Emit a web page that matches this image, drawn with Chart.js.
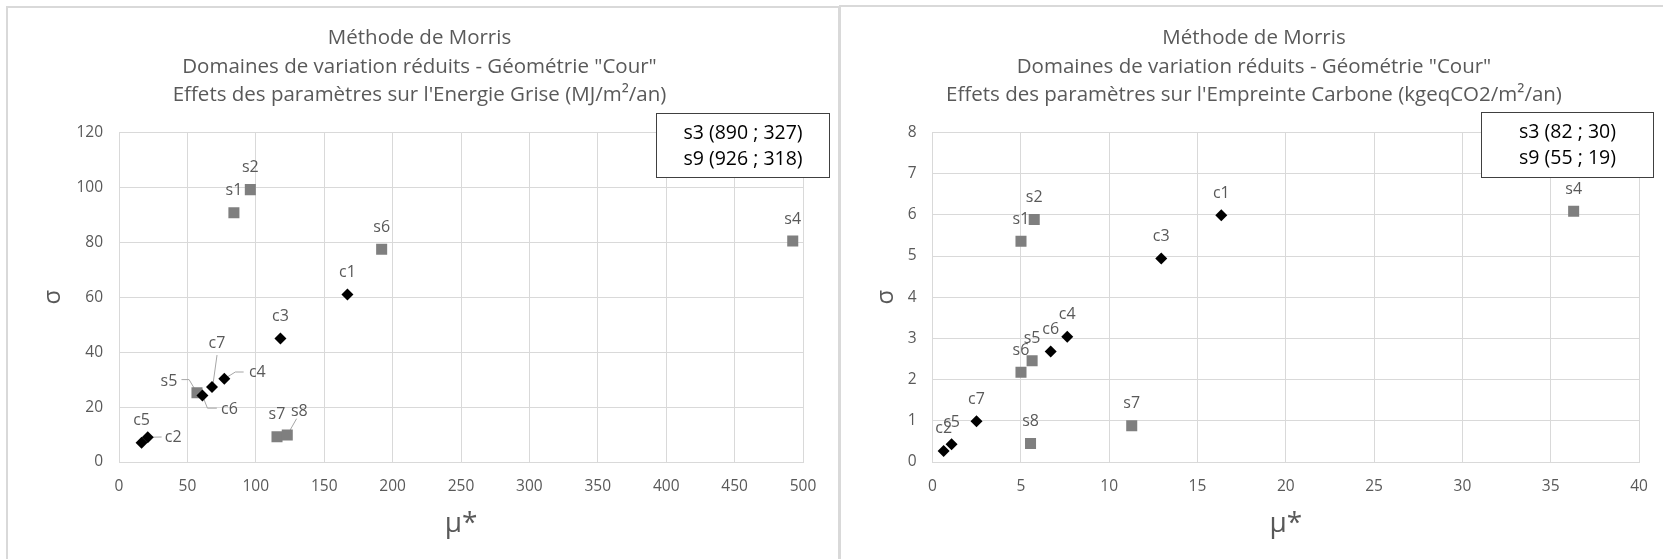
<!DOCTYPE html>
<html>
<head>
<meta charset="utf-8">
<script src="https://cdn.jsdelivr.net/npm/chart.js@4.4.0/dist/chart.umd.min.js"></script>
<style>
html, body { margin: 0; padding: 0; background: #fff; width: 1663px; height: 559px; overflow: hidden; }
.panel { position: absolute; border: 2px solid #d9d9d9; box-sizing: border-box; }
#p1 { left: 6px; top: 6px; width: 834px; height: 600px; }
#p2 { left: 839px; top: 5px; width: 900px; height: 600px; }
canvas { position: absolute; }
#chartEnergy { left: 8px; top: 8px; }
#chartCarbon { left: 841px; top: 8px; }
</style>
</head>
<body>
<div class="panel" id="p1"></div>
<div class="panel" id="p2"></div>
<canvas id="chartEnergy" width="829" height="551"></canvas>
<canvas id="chartCarbon" width="822" height="551"></canvas>
<script>
// Données : Energie Grise (MJ/m²/an)
const energyCLabels = ['c1', 'c2', 'c3', 'c4', 'c5', 'c6', 'c7'];
const energyCX = [167, 21, 118, 77, 16.5, 61, 68];
const energyCY = [61, 9, 45, 30.3, 7, 24.2, 27.3];
const energySLabels = ['s1', 's2', 's4', 's5', 's6', 's7', 's8'];
const energySX = [84, 96, 492.5, 57, 192, 115.5, 123];
const energySY = [90.8, 99.2, 80.5, 25.2, 77.5, 9.2, 9.8];
const energyOutLabels = ['s3', 's9'];
const energyOutX = [890, 926];
const energyOutY = [327, 318];

// Données : Empreinte Carbone (kgeqCO2/m²/an)
const carbonCLabels = ['c1', 'c2', 'c3', 'c4', 'c5', 'c6', 'c7'];
const carbonCX = [16.35, 0.63, 12.95, 7.63, 1.08, 6.69, 2.49];
const carbonCY = [5.99, 0.27, 4.94, 3.04, 0.43, 2.68, 0.99];
const carbonSLabels = ['s1', 's2', 's4', 's5', 's6', 's7', 's8'];
const carbonSX = [5.01, 5.76, 36.3, 5.64, 5.01, 11.28, 5.55];
const carbonSY = [5.36, 5.89, 6.09, 2.46, 2.18, 0.88, 0.45];
const carbonOutLabels = ['s3', 's9'];
const carbonOutX = [82, 55];
const carbonOutY = [30, 19];

const titleTop = ['Méthode de Morris', 'Domaines de variation réduits - Géométrie "Cour"'];

const GREY = '#595959';
const GRID = '#d9d9d9';
const FONT = "'Open Sans', 'DejaVu Sans', sans-serif";

// étiquettes des points + lignes de rappel + encadré des valeurs hors échelle
const labelPlugin = {
    id: 'pointLabels',
    beforeDatasetsDraw(chart, args, opts) {
        const ctx = chart.ctx;
        ctx.save();
        ctx.strokeStyle = '#a6a6a6';
        ctx.lineWidth = 1;
        eachPoint(chart, (name, pt) => {
            const path = (opts.leaders || {})[name];
            if (!path) return;
            ctx.beginPath();
            path.forEach(([dx, dy], k) => {
                if (k === 0) ctx.moveTo(pt.x + dx, pt.y + dy);
                else ctx.lineTo(pt.x + dx, pt.y + dy);
            });
            ctx.stroke();
        });
        ctx.restore();
    },
    afterDatasetsDraw(chart, args, opts) {
        const ctx = chart.ctx;
        ctx.save();
        ctx.fillStyle = GREY;
        ctx.font = '16px ' + FONT;
        ctx.textAlign = 'center';
        ctx.textBaseline = 'middle';
        eachPoint(chart, (name, pt) => {
            const off = (opts.offsets || {})[name] || [0, -22];
            ctx.fillText(name, pt.x + off[0], pt.y + off[1]);
        });
        ctx.restore();
    },
    afterDraw(chart, args, opts) {
        const b = opts.box;
        if (!b) return;
        const ctx = chart.ctx;
        ctx.save();
        ctx.fillStyle = '#fff';
        ctx.fillRect(b.x, b.y, b.w, b.h);
        ctx.strokeStyle = '#404040';
        ctx.lineWidth = 1;
        ctx.strokeRect(b.x + 0.5, b.y + 0.5, b.w - 1, b.h - 1);
        ctx.fillStyle = '#000';
        ctx.font = '19.5px ' + FONT;
        ctx.textAlign = 'center';
        ctx.textBaseline = 'middle';
        opts.lines.forEach((t, i) => ctx.fillText(t, b.x + b.w / 2, b.y + 20 + i * 26));
        ctx.restore();
    }
};

function eachPoint(chart, fn) {
    chart.data.datasets.forEach((ds, i) => {
        const meta = chart.getDatasetMeta(i);
        meta.data.forEach((pt, j) => fn(ds.names[j], pt));
    });
}

function pts(xs, ys) {
    return xs.map((x, i) => ({ x: x, y: ys[i] }));
}

function buildChart(id, o) {
    return new Chart(document.getElementById(id), {
        type: 'scatter',
        data: {
            datasets: [
                {
                    label: 'c',
                    names: o.cLabels,
                    data: pts(o.cX, o.cY),
                    pointStyle: 'rectRot',
                    pointRadius: 6,
                    pointHoverRadius: 6,
                    backgroundColor: '#000',
                    borderColor: '#000',
                    borderWidth: 0
                },
                {
                    label: 's',
                    names: o.sLabels,
                    data: pts(o.sX, o.sY),
                    pointStyle: 'rect',
                    pointRadius: 7.8,
                    pointHoverRadius: 7.8,
                    backgroundColor: '#7f7f7f',
                    borderColor: '#7f7f7f',
                    borderWidth: 0
                }
            ]
        },
        options: {
            responsive: false,
            animation: false,
            events: [],
            layout: { padding: { left: 28, right: o.padRight, top: 0, bottom: 0 } },
            plugins: {
                legend: { display: false },
                tooltip: { enabled: false },
                title: {
                    display: true,
                    text: titleTop.concat([o.title]),
                    color: GREY,
                    font: { family: FONT, size: 20.5, weight: 'normal', lineHeight: '28.5px' },
                    padding: { top: 16, bottom: 23 }
                },
                pointLabels: {
                    offsets: o.offsets,
                    leaders: o.leaders,
                    box: o.box,
                    lines: o.outLabels.map((l, i) => l + ' (' + o.outX[i] + ' ; ' + o.outY[i] + ')')
                }
            },
            scales: {
                x: {
                    type: 'linear',
                    min: 0,
                    max: o.xMax,
                    ticks: { stepSize: o.xStep, color: GREY, font: { family: FONT, size: 15.5 }, padding: 15 },
                    grid: { color: GRID, drawTicks: false },
                    border: { color: GRID },
                    title: { display: true, text: 'μ*', color: GREY, font: { family: FONT, size: 28 }, padding: { top: 0, bottom: 18 } },
                    afterFit(s) { s.height = 97; }
                },
                y: {
                    type: 'linear',
                    min: 0,
                    max: o.yMax,
                    ticks: { stepSize: o.yStep, color: GREY, font: { family: FONT, size: 15.5 }, padding: 16 },
                    grid: { color: GRID, drawTicks: false },
                    border: { color: GRID },
                    title: { display: true, text: 'σ', color: GREY, font: { family: FONT, size: 24 }, padding: { top: 3, bottom: 0 } },
                    afterFit(s) { s.width = o.yWidth; }
                }
            }
        },
        plugins: [labelPlugin]
    });
}

buildChart('chartEnergy', {
    title: "Effets des paramètres sur l'Energie Grise (MJ/m²/an)",
    cLabels: energyCLabels, cX: energyCX, cY: energyCY,
    sLabels: energySLabels, sX: energySX, sY: energySY,
    outLabels: energyOutLabels, outX: energyOutX, outY: energyOutY,
    xMax: 500, xStep: 50, yMax: 120, yStep: 20,
    padRight: 34, yWidth: 83,
    box: { x: 648, y: 105, w: 174, h: 65 },
    offsets: {
        c7: [5, -44], s5: [-28, -11], c4: [33, -6], c6: [27, 13.5], c2: [25.5, 0.5], s8: [12, -23.5]
    },
    leaders: {
        c7: [[5, -32], [1, -3]],
        s5: [[-15.5, -13.2], [-7.9, -13.2], [0, 0]],
        c4: [[19.3, -6.8], [11, -6.8], [0, 0]],
        c6: [[14.4, 12.6], [5, 12.6], [0, 0]],
        c2: [[13.9, -0.3], [0, 0]],
        s8: [[9.3, -16.4], [0, 0]]
    }
});

buildChart('chartCarbon', {
    title: "Effets des paramètres sur l'Empreinte Carbone (kgeqCO2/m²/an)",
    cLabels: carbonCLabels, cX: carbonCX, cY: carbonCY,
    sLabels: carbonSLabels, sX: carbonSX, sY: carbonSY,
    outLabels: carbonOutLabels, outX: carbonOutX, outY: carbonOutY,
    xMax: 40, xStep: 5, yMax: 8, yStep: 1,
    padRight: 24, yWidth: 63.5,
    box: { x: 640, y: 104, w: 173, h: 66 },
    offsets: {},
    leaders: {}
});
</script>
</body>
</html>
